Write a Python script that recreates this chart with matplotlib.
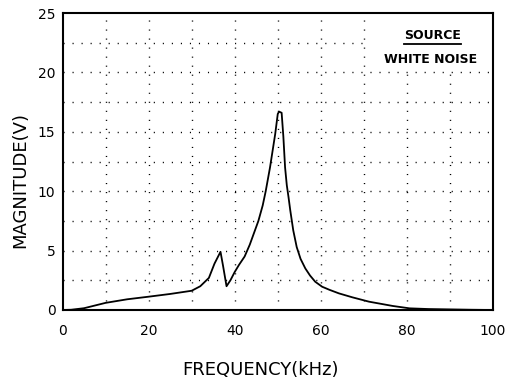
import matplotlib
matplotlib.use("Agg")
import matplotlib.pyplot as plt

# frequency response
freq = [0, 2, 5, 10, 15, 20, 25, 30, 32, 34, 35.3, 36, 36.7, 37.3, 38.1, 39, 40, 41,
        42.3, 43.5, 44.7, 45.5, 46.5, 47.2, 48.2, 49.4, 50.0, 50.3, 50.9, 51.3, 51.7,
        52.1, 52.5, 52.9, 53.6, 54.4, 55.3, 56.4, 57.5, 58.7, 60.3, 62, 64.2, 67.3,
        71.2, 76.7, 80.6, 85, 90, 95, 100]
mag = [0, 0.02, 0.15, 0.6, 0.9, 1.12, 1.35, 1.62, 2.0, 2.7, 3.9, 4.4, 4.9, 3.7, 2.0,
       2.5, 3.2, 3.8, 4.5, 5.5, 6.7, 7.5, 8.8, 10.0, 12.0, 14.8, 16.5, 16.7, 16.6,
       14.6, 12.0, 10.5, 9.5, 8.4, 6.7, 5.3, 4.3, 3.5, 2.9, 2.38, 1.96, 1.7, 1.4,
       1.07, 0.7, 0.34, 0.14, 0.08, 0.05, 0.02, 0.0]

xticks = [0, 20, 40, 60, 80, 100]
yticks = [0, 5, 10, 15, 20, 25]
xgrid = [10, 20, 30, 40, 50, 60, 70, 80, 90]
ygrid = [2.5, 5, 7.5, 10, 12.5, 15, 17.5, 20, 22.5]

fig = plt.figure(figsize=(5.09, 3.78), dpi=100)
ax = fig.add_axes([0.1228, 0.1799, 0.8458, 0.7857])

dots = (0, (0.8, 5.7))
# grid, left open behind the legend box in the upper right
for gx in xgrid:
    top = 0.8 if gx > 70 else 1.0
    ax.axvline(gx, ymax=top, color="black", lw=1, ls=dots)
for gy in ygrid:
    right = 0.7 if gy > 20 else 1.0
    ax.axhline(gy, xmax=right, color="black", lw=1, ls=dots)

ax.plot(freq, mag, color="black", lw=1.3)

ax.set_xlim(0, 100)
ax.set_ylim(0, 25)
ax.set_xticks(xticks)
ax.set_yticks(yticks)
ax.tick_params(length=0, labelsize=10)
ax.tick_params(axis="x", pad=10)
ax.tick_params(axis="y", pad=5)
for s in ax.spines.values():
    s.set_linewidth(1.5)

ax.text(86, 23.1, "SOURCE", ha="center", va="center", fontsize=9, weight="bold")
ax.plot([79.3, 92.6], [22.4, 22.4], color="black", lw=1.3)
ax.text(85.6, 21.1, "WHITE NOISE", ha="center", va="center", fontsize=9, weight="bold")

fig.text(260 / 509, 1 - 370 / 378, "FREQUENCY(kHz)", ha="center", va="center", fontsize=13)
fig.text(20 / 509, 1 - 180 / 378, "MAGNITUDE(V)", ha="center", va="center",
         fontsize=13, rotation=90)

fig.savefig("out.png", dpi=100)
